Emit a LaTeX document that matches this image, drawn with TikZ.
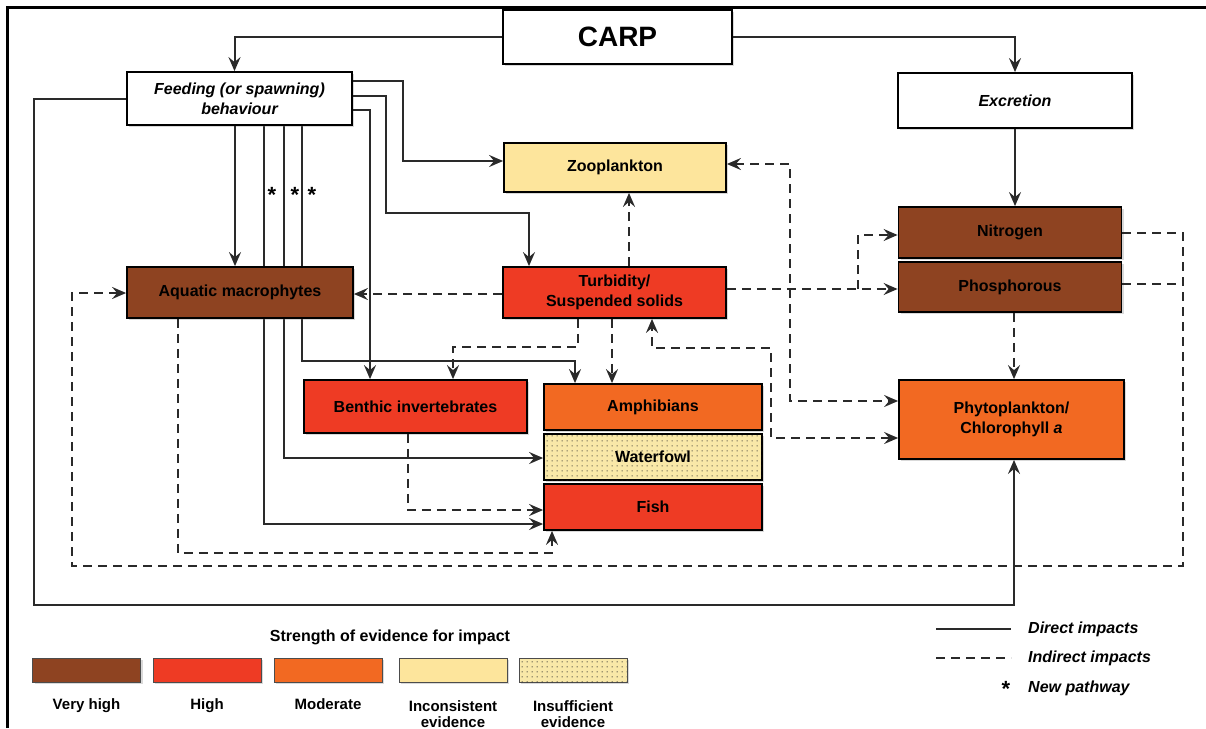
\documentclass[tikz,border=0pt]{standalone}
\usepackage{fontspec}
\setmainfont{Liberation Sans}
\usetikzlibrary{arrows.meta,shadows,patterns.meta,backgrounds}

\definecolor{vhigh}{HTML}{8E4321}
\definecolor{high}{HTML}{EE3B24}
\definecolor{moder}{HTML}{F26922}
\definecolor{incons}{HTML}{FDE59C}
\definecolor{insuff}{HTML}{F9E8A8}
\definecolor{ink}{HTML}{2A2A2A}

\tikzdeclarepattern{name=fowldots, type=uncolored,
  bounding box={(0,0) and (5pt,5pt)}, tile size={(5pt,5pt)},
  code={\fill (2.5pt,2.5pt) circle (0.7pt);}}

\tikzset{
  >={Stealth[length=14pt,width=12pt,inset=5pt]},
  box/.style={draw=black, line width=1.8pt, inner sep=0pt, align=center,
    font=\fontsize{16}{20}\selectfont\bfseries,
    drop shadow={opacity=0.3, shadow xshift=2pt, shadow yshift=-2pt}},
  whitebox/.style={box, fill=white, font=\fontsize{16}{20}\selectfont\bfseries\itshape},
  dotbox/.style={fill=insuff, postaction={pattern=fowldots, pattern color=black!85}},
  swatch/.style={draw=black!70, line width=1pt, minimum width=108pt, minimum height=24pt,
    drop shadow={opacity=0.3, shadow xshift=2pt, shadow yshift=-2pt}},
  direct/.style={draw=ink, line width=2pt},
  indirect/.style={direct, dash pattern=on 9pt off 6pt},
  starmark/.style={font=\fontsize{22}{22}\selectfont\bfseries, inner sep=0pt},
  legtxt/.style={font=\fontsize{16}{19}\selectfont\bfseries\itshape, anchor=west, inner sep=0pt},
  swlbl/.style={font=\fontsize{15}{16}\selectfont\bfseries, align=center, anchor=north, inner sep=0pt},
}

\begin{document}
\begin{tikzpicture}[x=1pt,y=-1pt]
\useasboundingbox (0,0) rectangle (1206,728);
\draw[line width=3pt] (7,728) -- (7,7) -- (1206,7);

\node[box, fill=white, minimum width=229pt, minimum height=54pt,
  font=\fontsize{28}{30}\selectfont\bfseries] (carp) at (617.5,37) {CARP};
\node[whitebox, minimum width=225pt, minimum height=53pt] (feed) at (239.5,98.5)
  {Feeding (or spawning)\\behaviour};
\node[whitebox, minimum width=234pt, minimum height=55pt] (excr) at (1015,100.5) {Excretion};
\node[box, fill=incons, minimum width=222pt, minimum height=49pt] (zoo) at (615,167.5) {Zooplankton};
\node[box, fill=vhigh, minimum width=226pt, minimum height=51pt] (macro) at (240,292.5) {Aquatic macrophytes};
\node[box, fill=high, minimum width=223pt, minimum height=51pt] (turb) at (614.5,292.5) {Turbidity/\\Suspended solids};
\node[box, fill=vhigh, minimum width=223pt, minimum height=51pt] (nitro) at (1010,232.5) {Nitrogen};
\node[box, fill=vhigh, minimum width=223pt, minimum height=50pt] (phos) at (1010,287) {Phosphorous};
\node[box, fill=high, minimum width=223pt, minimum height=53pt] (benth) at (415.5,406.5) {Benthic invertebrates};
\node[box, fill=moder, minimum width=218pt, minimum height=46pt] (amph) at (653,407) {Amphibians};
\node[box, dotbox, minimum width=218pt, minimum height=46pt] (fowl) at (653,457) {Waterfowl};
\node[box, fill=high, minimum width=218pt, minimum height=46pt] (fish) at (653,507) {Fish};
\node[box, fill=moder, minimum width=225pt, minimum height=79pt] (phyto) at (1011.5,419.5)
  {Phytoplankton/\\Chlorophyll \textit{a}};

\coordinate (tsplit) at (858,289);
\coordinate (npjoin) at (1183,284);

\begin{scope}[on background layer]
\draw[direct,->] (feed.south -| 264,0) |- (fish.west |- 0,524);
\draw[direct,->] (feed.south -| 284,0) |- (fowl.west |- 0,458);
\draw[direct,->] (feed.south -| 302,0) |- (575,361) -- (amph.north -| 575,0);
\end{scope}
\node[starmark] (st1) at (272,195) {*};
\node[starmark] (st2) at (295,195) {*};
\node[starmark] (st3) at (312,195) {*};

\draw[direct,->] (carp.west) -| ([xshift=-5pt]feed.north);
\draw[direct,->] (carp.east) -| (excr.north);
\draw[direct,->] (excr.south) -- (excr.south |- nitro.north);
\draw[direct,->] (feed.east |- 0,81) -| (403,161) -- (zoo.west |- 0,161);
\draw[direct,->] (feed.east |- 0,96) -| (386,213) -| (turb.north -| 529,0);
\draw[direct,->] (feed.east |- 0,110) -| (benth.north -| 370,0);
\draw[direct,->] (feed.south -| 235,0) -- (macro.north -| 235,0);
\draw[direct,->] (feed.west) -| (34,605) -| (phyto.south -| 1014,0);

\draw[indirect,->] (turb.west |- 0,294) -- (macro.east |- 0,294);
\draw[indirect,->] (turb.north -| 629,0) -- (zoo.south -| 629,0);
\draw[indirect,->] (turb.south -| 578,0) |- (453,347) -- (benth.north -| 453,0);
\draw[indirect,->] (turb.south -| 612,0) -- (amph.north -| 612,0);
\draw[indirect,->] (turb.east |- tsplit) -- (phos.west |- tsplit);
\draw[indirect,->] (tsplit) |- (nitro.west |- 0,235);
\draw[indirect,<->] (phyto.west |- 0,438) -| (771,348) -| (turb.south -| 652,0);
\draw[indirect,<->] (zoo.east |- 0,164) -| (790,401) -- (phyto.west |- 0,401);
\draw[indirect,->] (phos.south -| 1014,0) -- (phyto.north -| 1014,0);
\draw[indirect,->] (nitro.east |- 0,233) -| (1183,566) -| (72,293) -- (macro.west |- 0,293);
\draw[indirect] (phos.east |- npjoin) -- (npjoin);
\draw[indirect,->] (macro.south -| 178,0) |- (552,553) -- (fish.south -| 552,0);
\draw[indirect,->] (benth.south -| 408,0) |- (fish.west |- 0,510);

% legend
\node[font=\fontsize{16}{19}\selectfont\bfseries] (legtitle) at (390,637) {Strength of evidence for impact};
\foreach \n/\x/\c in {vh/86.5/vhigh, hi/207/high, mo/328/moder, ic/453/incons}
  \node[swatch, fill=\c] (sw\n) at (\x,670) {};
\node[swatch, dotbox] (swis) at (573,670) {};
\node[swlbl] (lbvh) at (swvh.south |- 0,698) {Very high};
\node[swlbl] (lbhi) at (swhi.south |- 0,698) {High};
\node[swlbl] (lbmo) at (swmo.south |- 0,698) {Moderate};
\node[swlbl] (lbic) at (swic.south |- 0,700) {Inconsistent\\evidence};
\node[swlbl] (lbis) at (swis.south |- 0,700) {Insufficient\\evidence};

\coordinate (dirA) at (936,629);
\coordinate (dirB) at (1011,629);
\coordinate (indA) at (936,658);
\coordinate (indB) at (1011,658);
\draw[direct] (dirA) -- (dirB);
\draw[indirect] (indA) -- (indB);
\node[legtxt] (ldir) at (1028,629) {Direct impacts};
\node[legtxt] (lind) at (1028,658) {Indirect impacts};
\node[starmark] (lstar) at (1006,689) {*};
\node[legtxt] (lnew) at (1028,688) {New pathway};
\end{tikzpicture}
\end{document}
